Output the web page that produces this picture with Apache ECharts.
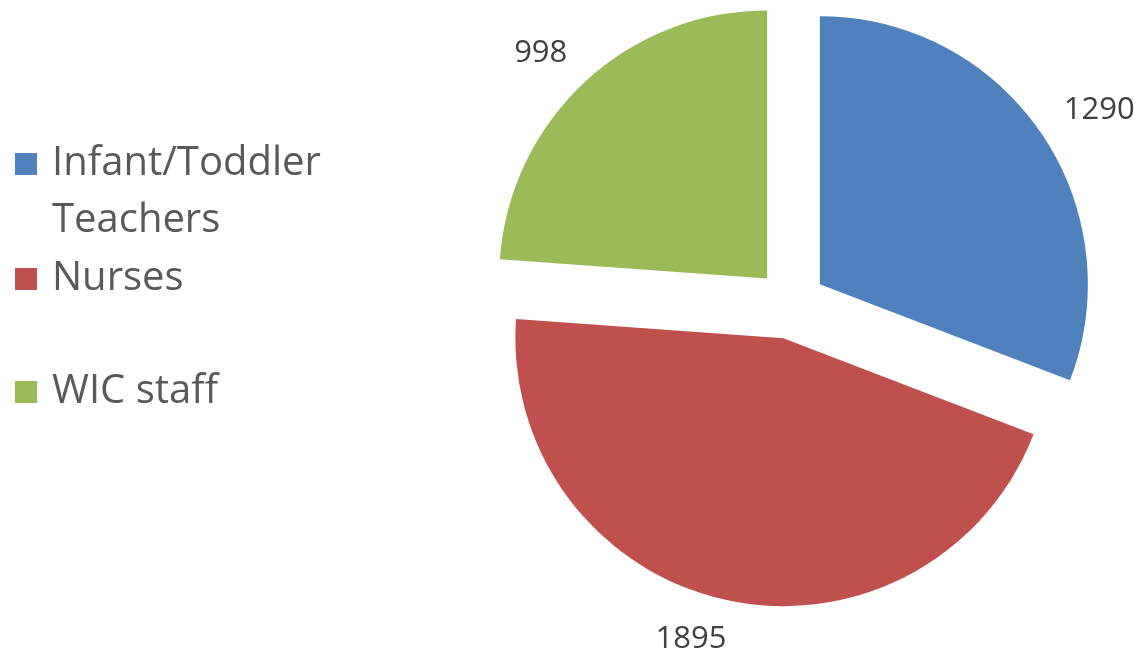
<!DOCTYPE html>
<html>
<head>
<meta charset="utf-8">
<script src="https://cdn.jsdelivr.net/npm/echarts@6/dist/echarts.min.js"></script>
<style>
  html, body { margin: 0; padding: 0; background: #fff; }
  #main { width: 1136px; height: 655px; }
</style>
</head>
<body>
<div id="main"></div>
<script>
var categories = ["Infant/Toddler Teachers", "Nurses", "WIC staff"];
var legendLines = [["Infant/Toddler", "Teachers"], ["Nurses"], ["WIC staff"]];
var values = [1290, 1895, 998];
var colors = ["#4F81BD", "#C0504D", "#9BBB59"];

var chartDom = document.getElementById("main");
var myChart = echarts.init(chartDom);

var font = "'Open Sans', 'Noto Sans', sans-serif";

// one legend per item so that each can sit where the original put it
function legendAt(i, top) {
  var lines = legendLines[i].map(function (s) { return "{t|" + s + "}"; });
  // a blank line on top keeps the icon level with the first line
  if (lines.length > 1) lines.unshift("{t| }");
  return {
    left: 15,
    top: top,
    padding: 0,
    orient: "vertical",
    itemWidth: 22,
    itemHeight: 22,
    icon: "rect",
    selectedMode: false,
    data: [categories[i]],
    formatter: function () { return lines.join("\n"); },
    textStyle: {
      rich: {
        t: {
          fontFamily: font,
          fontSize: 40,
          color: "#595959",
          lineHeight: 57,
          padding: [0, 0, 0, 10]
        }
      }
    }
  };
}

var option = {
  color: colors,
  animation: false,
  legend: [legendAt(0, 87), legendAt(1, 259), legendAt(2, 372)],
  series: [
    {
      name: "Staff",
      type: "pie",
      center: [791, 304],
      radius: 268,
      startAngle: 90,
      clockwise: true,
      selectedMode: "multiple",
      selectedOffset: 35,
      avoidLabelOverlap: false,
      label: {
        show: true,
        position: "outside",
        formatter: "{c}",
        fontFamily: font,
        fontSize: 31,
        color: "#404040",
        distanceToLabelLine: -10
      },
      labelLine: { show: false, length: 40, length2: 0 },
      emphasis: { disabled: true },
      select: { itemStyle: { borderWidth: 0 } },
      data: categories.map(function (name, i) {
        return {
          name: name,
          value: values[i],
          selected: true,
          itemStyle: { color: colors[i] },
          select: { itemStyle: { color: colors[i] } }
        };
      })
    }
  ]
};

myChart.setOption(option);
</script>
</body>
</html>
